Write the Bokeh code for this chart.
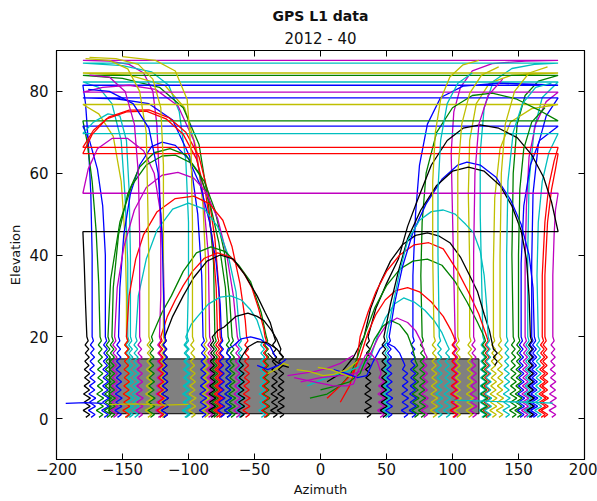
from bokeh.plotting import figure
from bokeh.models import ColumnDataSource, Range1d, FixedTicker, LinearAxis, Title, CustomLabelingPolicy
from bokeh.embed import file_html
from bokeh.resources import INLINE

FONT = "DejaVu Sans"
B, G, R, C, M, Y, K = "#0000ff", "#008000", "#ff0000", "#00bfbf", "#bf00bf", "#bfbf00", "#000000"

x_ticks = [-200, -150, -100, -50, 0, 50, 100, 150, 200]
x_tick_labels = ["\u2212200", "\u2212150", "\u2212100", "\u221250", "0", "50", "100", "150", "200"]
y_ticks = [0, 20, 40, 60, 80]
y_tick_labels = ["0", "20", "40", "60", "80"]

# grey elevation-mask box (azimuth span, elevation span)
box_az = [-160, 120]
box_el = [1.2, 14.6]

# low-elevation multipath ripple: azimuth offset at each elevation
wiggle_el = [19, 18, 17, 16, 15, 14, 13, 12, 11, 10, 9, 8, 7, 6, 5, 4, 3, 2, 1, 0.3]
wiggle_daz = [1.0, -1.3, 1.5, -1.2, 1.8, -1.5, 1.6, -1.9, 2.1, -1.7, 2.3, -2.0, 2.0, -2.5, 2.7, -2.1, 2.5, -2.8, 2.2, -0.8]

# satellite passes (azimuth, elevation); a pass crossing 180 deg wraps to -180
W1 = [(102,20),(101,35),(100,50),(99,65),(101,75),(106,81),(115,85),(130,86.8),(155,87.4),(180,87.6),(-180,87.6),(-160,87.4),(-145,86.6),(-134,84.5),(-127,80),(-124,72),(-122,58),(-121,42),(-121,30),(-122,20)]
W2 = [(123,20),(122,35),(121,50),(121,65),(124,76),(131,82.5),(145,85.6),(162,86.6),(180,86.9),(-180,86.9),(-150,86.3),(-128,84.8),(-115,81.5),(-107,75),(-102,63),(-100,48),(-100,34),(-101,20)]
W3 = [(113,20),(113,38),(112,55),(113,68),(118,77),(128,82),(145,84),(180,84.5),(-180,84.5),(-145,84),(-118,81.5),(-103,76),(-94,66),(-89,52),(-87,38),(-87,20)]
W4 = [(146,20),(145,40),(146,60),(149,72),(155,79),(165,82.5),(180,83.9),(-180,83.9),(-150,83.2),(-122,81),(-104,76),(-92,67),(-85,53),(-81,38),(-80,20)]
W5 = [(157,20),(157,40),(158,58),(162,71),(168,78.5),(180,82.3),(-180,82.3),(-168,81),(-158,77),(-151,68),(-148,54),(-146,38),(-146,20)]
W6 = [(70,20),(70,35),(72,50),(75,62),(81,72),(91,78.5),(108,81.3),(135,82),(160,81.8),(180,81.5),(-180,81.5),(-178,77),(-176,68),(-174,55),(-173,40),(-173,20)]
W7 = [(155,20),(155,38),(156,52),(158,64),(163,72),(171,77.5),(180,79.8),(-180,79.8),(-165,81),(-145,81.5),(-125,80.5),(-108,76.5),(-96,68),(-89,55),(-85,40),(-84,20)]
W8 = [(160,20),(160,38),(161,55),(165,67),(171,74),(180,78.4),(-180,78.4),(-155,78.2),(-130,77),(-112,73),(-99,64),(-93,50),(-90,35),(-89,20)]
W9 = [(131,20),(131,38),(132,54),(136,66),(144,72.5),(160,75.8),(180,76.8),(-180,76.8),(-168,74.5),(-157,69),(-151,58),(-148,44),(-147,30),(-147,20)]
W10 = [(77,20),(76,35),(77,48),(80,60),(88,70),(100,76),(115,79),(130,79.6),(148,78.2),(165,75.5),(180,72.8),(-180,72.8),(-177,68),(-173,58),(-170,46),(-168,33),(-167,20)]
W11 = [(152,20),(152,38),(154,52),(159,62),(166,68),(180,71.5),(-180,71.5),(-175,68),(-169,61),(-165,52),(-163,40),(-163,20)]
W12 = [(165,20),(164,35),(165,48),(168,58),(173,65),(180,69.7),(-180,69.7),(-172,72.5),(-161,74.5),(-152,74),(-147,68),(-145,56),(-144,40),(-144,20)]
W13 = [(168,20),(168,35),(170,48),(173,57),(177,63),(180,66.3),(-180,66.3),(-172,70.5),(-160,73.8),(-145,75.4),(-130,75.5),(-115,73.6),(-102,70),(-92,64),(-85,55),(-80,44),(-77,32),(-76,20)]
W14 = [(170,20),(170,35),(172,48),(175,56),(178,61),(180,64.8),(-180,64.8),(-173,69.5),(-162,73.3),(-147,75),(-132,75.2),(-117,73.3),(-104,69.5),(-94,63.5),(-87,55),(-82,44),(-79,32),(-78,20)]
W15 = [(176,20),(176,35),(177,45),(178,51),(180,55.1),(-180,55.1),(-176,61),(-169,66),(-158,68.5),(-146,68.5),(-134,65.5),(-126,60),(-121,50),(-119,38),(-118,20)]
W16 = [(36,20),(42,27),(50,33),(59,39),(66,47),(73,53),(84,62),(96,68),(108,71),(121,71.8),(135,71),(149,68.7),(160,64.5),(169,59),(175,53),(180,45.7),(-180,45.7),(-179,38),(-178,28),(-177,20)]

D1 = [(-153,20),(-152,32),(-149,45),(-144,55),(-137,62),(-128,66.5),(-120,67.6),(-110,66.8),(-100,63.5),(-91,57),(-84,48),(-79,38),(-76,28),(-75,20)]
D2 = [(-158,20),(-157,32),(-153,45),(-146,55),(-137,61.5),(-126,65),(-114,66),(-102,64.5),(-92,60),(-84,53),(-77,43),(-72,32),(-70,20)]
D3 = [(-161,20),(-159,34),(-152,48),(-143,57),(-132,62),(-120,64.2),(-110,64.4),(-98,62.5),(-88,58),(-80,51),(-73,41),(-69,30),(-67,20)]
D4 = [(-156,20),(-154,32),(-149,42),(-141,51),(-132,56.5),(-120,59.5),(-108,60.2),(-96,58.8),(-87,55.5),(-78,49),(-71,40),(-66,30),(-63,20)]
D5 = [(-147,20),(-145,30),(-140,39),(-134,45),(-124,50.5),(-110,53.8),(-96,54.4),(-84,52.5),(-74,48.5),(-67,42),(-61,33),(-57,24),(-56,20)]
D6 = [(-140,20),(-138,30),(-132,39),(-124,46),(-112,51.2),(-100,52.7),(-88,51.2),(-78,47),(-70,40),(-64,31),(-61,20)]
D7 = [(-128,20),(-120,26),(-113,30),(-104,36),(-94,40.5),(-83,42),(-72,40.8),(-62,37.5),(-53,33.5),(-45,26),(-41,20)]
D8 = [(-121,20),(-116,25),(-110,29),(-104,32.5),(-97,36),(-88,39.2),(-78,40.5),(-68,39.5),(-58,35.5),(-52,32),(-47,27),(-43,22),(-42,20)]
D9 = [(-118,20),(-112,25),(-104,30),(-96,34.5),(-86,38.5),(-76,40),(-66,39),(-57,35),(-48,30),(-42,26),(-38,23.4),(-35,20)]
D10 = [(-102,20),(-98,23),(-93,25),(-85,28),(-76,29.7),(-68,30),(-60,29),(-53,26.6),(-48,24),(-44,20)]
D11 = [(-82,20),(-78,21.5),(-73,22.4),(-64,25),(-55,25.8),(-48,25),(-43,24),(-37,21.5),(-33,19.3),(-30,17)]
D12 = [(-70,17),(-66,17.8),(-60,19.5),(-53,20),(-45,19.3),(-38,17.6),(-34,15)]
D13 = [(-60,15),(-55,17.5),(-48,18.8),(-40,18.5),(-33,17),(-28,15)]

L1 = [(-178,88),(-160,87.6),(-146,85.5),(-137,80),(-132,70),(-131,55),(-130,38),(-130,20)]
L2 = [(-175,88.3),(-155,88),(-138,86.6),(-127,83),(-121,76),(-119,62),(-119,45),(-119,30),(-119,20)]
L3 = [(-150,88.5),(-125,87.6),(-110,85),(-101,78),(-98,65),(-97,48),(-97,33),(-97,20)]
L4 = [(-176,80.5),(-160,80),(-142,77),(-130,71),(-123,60),(-120,45),(-119,32),(-118,20)]
L5 = [(-175,84),(-160,83.5),(-148,80),(-141,72),(-138,60),(-137,45),(-137,30),(-137,20)]

R1 = [(5,9),(15,11),(25,15),(33,20),(38,27),(45,33),(53,38.5),(62,42.5),(72,44.8),(81,45.4),(90,44.6),(98,43),(106,39.5),(113,35),(119,31),(124,25.5),(128,21.5),(131,17),(134,16),(131,15),(134,14),(132,13)]
R2 = [(15,4),(22,8),(27,13),(30,20),(36,26),(42,31),(50,36),(60,40),(71,42.5),(82,43),(93,41.5),(104,36),(112,31),(120,25.5),(126,20)]
R3 = [(-8,5),(5,6),(15,8),(23,11),(28,15),(34,21),(41,27),(50,32.5),(60,36.5),(70,38.5),(81,39),(92,37.5),(102,33.5),(111,28.5),(119,23.5),(124,20)]
R4 = [(5,5),(15,8),(24,11),(30,15),(36,21),(42,25.5),(49,29),(57,31.3),(66,32),(75,31),(84,28.5),(93,25),(99,21.5),(101,20)]
R5 = [(-10,8),(5,10),(20,11.5),(32,13),(38,15),(43,20),(49,24.5),(56,28),(63,29.5),(71,28.5),(79,26.5),(86,24),(92,21),(96,18)]
R6 = [(-15,9),(0,10),(15,10.5),(26,11),(33,12),(38,16),(44,20),(50,23),(58,24.6),(66,23.5),(72,21.5),(76,19),(79,16)]
R7 = [(0,7),(12,8),(22,9),(30,11),(35,15),(41,19.5),(47,22.5),(53,24),(60,23),(66,20.5),(70,17),(72,14)]
R8 = [(10,12),(20,11),(28,10),(35,10.5),(40,14),(45,17),(50,18.5),(56,17.5),(60,16),(64,13)]
R9 = [(-20,10),(-5,9),(10,8),(20,8),(25,8.5),(29,12),(34,15.5),(38,16),(43,14),(46,11)]
R10 = [(52,20),(56,28),(62,37),(70,45.5),(80,52.5),(92,58.5),(104,62),(111,62.7),(121,62),(133,59),(144,53.5),(152,47.5),(158,40),(161,32),(162,20)]
R11 = [(48,20),(53,28),(59,36),(66,44),(76,51),(88,57),(100,60.5),(112,61.5),(124,60.5),(136,57),(145,52),(152,46),(156,39),(158,30),(159,20)]
R12 = [(50,20),(55,28),(60,36),(66,43.5),(75,48.5),(84,50.6),(93,51),(102,50),(110,47.5),(116,45.4),(121,41),(124,35),(126,27),(127,20)]

X1 = [(136,20),(136,40),(137,60),(140,72),(147,80),(158,84.5),(172,86)]
X2 = [(141,20),(141,40),(142,58),(146,70),(153,77),(163,81),(175,82)]
X3 = [(150,20),(150,40),(151,56),(154,66),(160,72.5),(170,76)]
X5 = [(86,20),(85,40),(85,58),(87,70),(91,78),(98,83.5),(108,86.5),(120,87.6)]
X6 = [(90,20),(89,40),(89,56),(91,68),(96,77),(104,82),(115,84.5)]
X7 = [(116,20),(116,40),(117,60),(120,72),(127,79),(138,83)]
X8 = [(104,20),(104,40),(104,60),(107,72),(113,79.5),(122,84),(135,86)]

C1 = [(-25,10.5),(-15,11),(-5,11.5),(5,12.3),(15,13.5),(25,15.5)]
C2 = [(-18,12),(-8,11.5),(2,10.5),(10,10.8),(20,12),(28,14)]
C7 = [(-2,12.5),(8,12),(16,11),(24,10)]
C9 = [(-40,16),(-34,14),(-29,13),(-24,12.5)]
C10 = [(-48,13),(-40,12),(-32,13),(-26,14.5)]
C11 = [(-40,11),(-34,12),(-28,13.5),(-24,13)]

H1 = [(-193,3.7),(-178,3.9),(-165,3.7)]
H2 = [(-160,3.4),(-140,3.6),(-120,3.3),(-100,3.5)]
H3 = [(100,4.5),(130,4.2),(160,4.0),(176,3.8)]

# (colour, pass, ripple at start, ripple at end)
TRACKS = [
    (M, W1, True, True), (C, W2, True, True), (Y, W3, True, True), (G, W4, True, True),
    (C, W5, True, True), (B, W6, True, True), (M, W7, True, True), (B, W8, True, True),
    (Y, W9, True, True), (G, W10, True, True), (B, W11, True, True), (C, W12, True, True),
    (R, W13, True, True), (R, W14, True, True), (M, W15, True, True), (K, W16, True, True),
    (B, D1, True, True), (G, D2, True, True), (G, D3, True, True), (M, D4, True, True),
    (R, D5, True, True), (C, D6, True, True), (G, D7, True, True), (R, D8, True, True),
    (K, D9, True, True), (C, D10, True, True), (K, D11, True, True), (B, D12, True, False),
    (K, D13, True, False),
    (Y, L1, False, True), (Y, L2, False, True), (Y, L3, False, True), (B, L4, False, True),
    (M, L5, False, True),
    (K, R1, False, False), (R, R2, False, True), (G, R3, False, True), (R, R4, False, True),
    (C, R5, False, True), (M, R6, False, True), (G, R7, False, True), (B, R8, False, True),
    (M, R9, False, True), (B, R10, True, True), (K, R11, True, True), (C, R12, True, True),
    (Y, X1, True, False), (C, X2, True, False), (G, X3, True, False), (Y, X5, True, False),
    (C, X6, True, False), (M, X7, True, False), (Y, X8, True, False),
    (M, C1, False, False), (Y, C2, False, False), (Y, C7, False, False), (K, C9, False, False),
    (B, C10, False, False), (Y, C11, False, False),
    (B, H1, False, False), (Y, H2, False, False), (C, H3, False, False),
]


def ripple(az0, el0):
    return [(az0 + d, e) for d, e in zip(wiggle_daz, wiggle_el) if e < el0]


xs, ys, cols = [], [], []
for col, pts, w0, w1 in TRACKS:
    seq = list(pts)
    if w0:
        seq = ripple(*pts[0])[::-1] + seq
    if w1:
        seq = seq + ripple(*pts[-1])
    xs.append([a for a, _ in seq])
    ys.append([e for _, e in seq])
    cols.append(col)

src = ColumnDataSource(dict(xs=xs, ys=ys, color=cols))

p = figure(width=597, height=501, x_range=Range1d(-200, 200), y_range=Range1d(-10, 90),
           output_backend="svg", toolbar_location=None,
           min_border_left=56, min_border_right=13, min_border_top=50, min_border_bottom=42)
p.xgrid.visible = False
p.ygrid.visible = False
p.outline_line_color = "black"
p.outline_line_width = 1.2
p.background_fill_color = "white"
p.border_fill_color = "white"

p.quad(left=[box_az[0]], right=[box_az[1]], bottom=[box_el[0]], top=[box_el[1]],
       fill_color="#808080", line_color="#222222", line_width=1.2)
p.multi_line(xs="xs", ys="ys", line_color="color", line_width=1.3, source=src)

hide_all = CustomLabelingPolicy(code="for (const i of indices) indices.unset(i)")


def style(ax, ticks, labels, show):
    ax.ticker = FixedTicker(ticks=ticks)
    ax.major_tick_in = 6
    ax.major_tick_out = 0
    ax.minor_tick_in = 0
    ax.minor_tick_out = 0
    ax.axis_line_color = "black"
    ax.major_tick_line_color = "black"
    ax.major_label_text_font = FONT
    ax.major_label_text_color = "#111111"
    ax.axis_label_text_font = FONT
    ax.axis_label_text_font_style = "normal"
    ax.axis_label_text_font_size = "13px"
    ax.axis_label_text_color = "#111111"
    if show:
        ax.major_label_overrides = {t: l for t, l in zip(ticks, labels)}
        ax.major_label_text_font_size = "15px"
    else:
        ax.major_label_policy = hide_all
        ax.major_label_text_font_size = "0px"
        ax.major_label_standoff = 0


style(p.xaxis[0], x_ticks, x_tick_labels, True)
p.xaxis[0].axis_label = "Azimuth"
p.xaxis[0].major_label_standoff = 3
p.xaxis[0].axis_label_standoff = 4
style(p.yaxis[0], y_ticks, y_tick_labels, True)
p.yaxis[0].axis_label = "Elevation"
p.yaxis[0].major_label_standoff = 8
p.yaxis[0].axis_label_standoff = 3

top = LinearAxis()
style(top, x_ticks, x_tick_labels, False)
p.add_layout(top, "above")
right = LinearAxis()
style(right, y_ticks, y_tick_labels, False)
p.add_layout(right, "right")

p.title.text = "GPS L1 data"
p.title.align = "center"
p.title.text_font = FONT
p.title.text_font_size = "14px"
p.title.text_font_style = "bold"
p.title.text_color = "#111111"
p.title.standoff = 4
p.add_layout(Title(text="2012 - 40", align="center", text_font=FONT, text_font_size="15px",
                   text_font_style="normal", text_color="#111111", standoff=5), "above")

open("out.html", "w").write(file_html(p, INLINE))
